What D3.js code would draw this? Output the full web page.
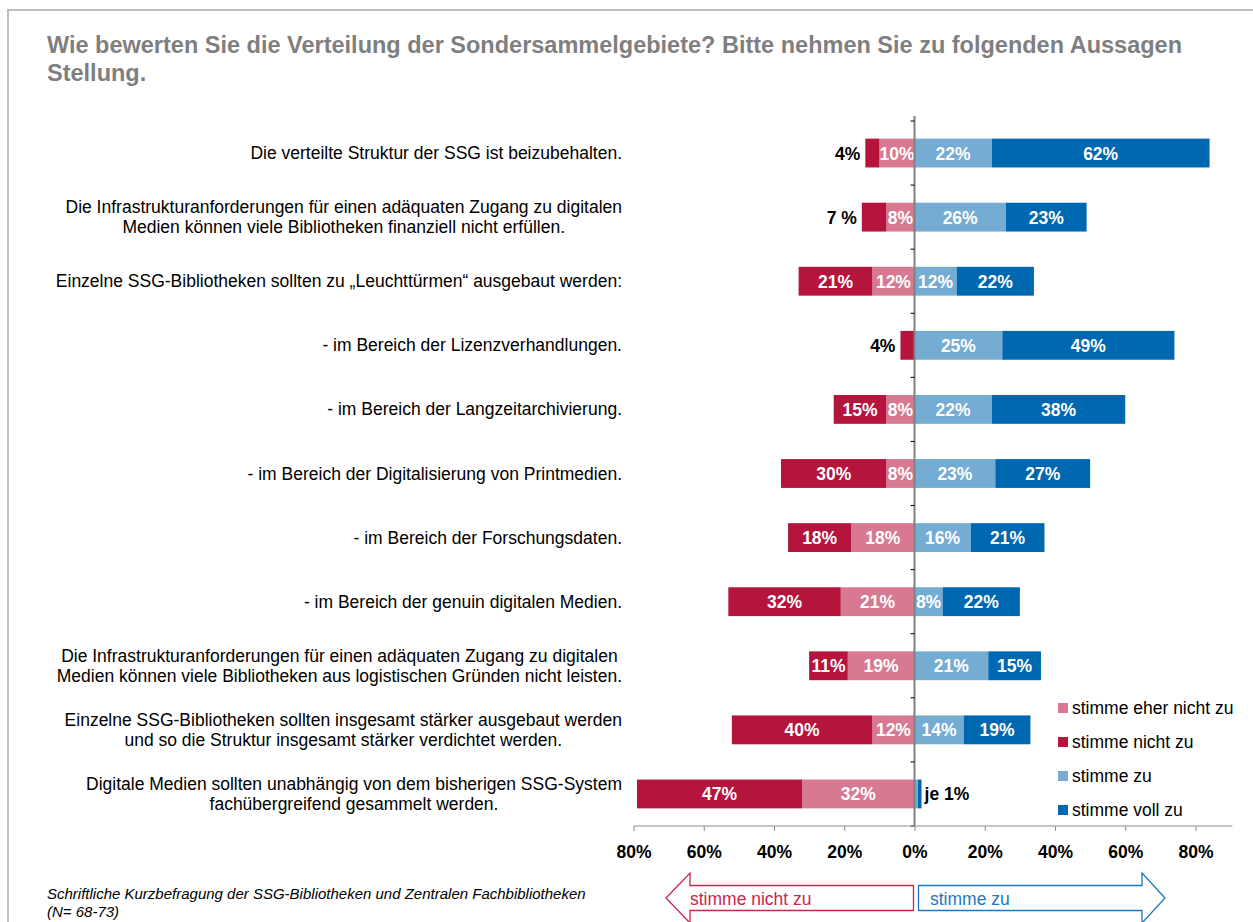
<!DOCTYPE html>
<html>
  <head>
    <meta charset="utf-8">
    <script type="text/javascript" src="https://d3js.org/d3.v7.min.js"></script>
    <style>
      body { margin: 0; background: #fff; }
      text { font-family: "Liberation Sans", Arial, sans-serif; }
    </style>
  </head>
  <body>
  </body>
  <script>

  var titleLines = ["Wie bewerten Sie die Verteilung der Sondersammelgebiete? Bitte nehmen Sie zu folgenden Aussagen",
                    "Stellung."];

  var categories = [
    ["Die verteilte Struktur der SSG ist beizubehalten."],
    ["Die Infrastrukturanforderungen für einen adäquaten Zugang zu digitalen", "Medien können viele Bibliotheken finanziell nicht erfüllen."],
    ["Einzelne SSG-Bibliotheken sollten zu „Leuchttürmen“ ausgebaut werden:"],
    ["- im Bereich der Lizenzverhandlungen."],
    ["- im Bereich der Langzeitarchivierung."],
    ["- im Bereich der Digitalisierung von Printmedien."],
    ["- im Bereich der Forschungsdaten."],
    ["- im Bereich der genuin digitalen Medien."],
    ["Die Infrastrukturanforderungen für einen adäquaten Zugang zu digitalen", "Medien können viele Bibliotheken aus logistischen Gründen nicht leisten."],
    ["Einzelne SSG-Bibliotheken sollten insgesamt stärker ausgebaut werden", "und so die Struktur insgesamt stärker verdichtet werden."],
    ["Digitale Medien sollten unabhängig von dem bisherigen SSG-System", "fachübergreifend gesammelt werden."]
  ];

  // values in percent
  var nichtZu     = [4, 7, 21, 4, 15, 30, 18, 32, 11, 40, 47];
  var eherNichtZu = [10, 8, 12, 0, 8, 8, 18, 21, 19, 12, 32];
  var stimmeZu    = [22, 26, 12, 25, 22, 23, 16, 8, 21, 14, 1];
  var vollZu      = [62, 23, 22, 49, 38, 27, 21, 22, 15, 19, 1];

  // small values labelled beside the bar
  var outsideLabels = [
    {row: 0, side: "left",  text: "4%"},
    {row: 1, side: "left",  text: "7 %"},
    {row: 3, side: "left",  text: "4%"},
    {row: 10, side: "right", text: "je 1%"}
  ];

  var tickValues = [-80, -60, -40, -20, 0, 20, 40, 60, 80];
  var legendNames = ["stimme eher nicht zu", "stimme nicht zu", "stimme zu", "stimme voll zu"];
  var legendKeys = ["eher", "nicht", "zu", "voll"];
  var arrowLabels = ["stimme nicht zu", "stimme zu"];
  var source = ["Schriftliche Kurzbefragung der SSG-Bibliotheken und Zentralen Fachbibliotheken", "(N= 68-73)"];

  var colors = {nicht: "#b5143c", eher: "#d77a91", zu: "#74acd3", voll: "#0068b0"};

  var svg = d3.select("body").append("svg")
              .attr("width", 1253)
              .attr("height", 922);

  // frame
  svg.append("path")
     .attr("d", "M8,922 V10 H1253")
     .attr("fill", "none")
     .attr("stroke", "#bfbfbf")
     .attr("stroke-width", 2);

  svg.selectAll(".title")
     .data(titleLines)
     .enter().append("text")
     .attr("x", 47)
     .attr("y", function(d, i) { return 53 + i * 28; })
     .attr("font-size", 23.5)
     .attr("font-weight", "bold")
     .attr("fill", "#7f7f7f")
     .text(function(d) { return d; });

  var x = d3.scaleLinear().domain([-80, 80]).range([633.5, 1195.5]);
  var y = d3.scaleBand().domain(d3.range(categories.length))
            .range([121, 826]).paddingInner(0.55).paddingOuter(0.275);

  // build stacked segments
  var segs = [];
  categories.forEach(function(c, i) {
    segs.push({row: i, key: "eher",  x0: -eherNichtZu[i], x1: 0, v: eherNichtZu[i]});
    segs.push({row: i, key: "nicht", x0: -eherNichtZu[i] - nichtZu[i], x1: -eherNichtZu[i], v: nichtZu[i]});
    segs.push({row: i, key: "zu",    x0: 0, x1: stimmeZu[i], v: stimmeZu[i]});
    segs.push({row: i, key: "voll",  x0: stimmeZu[i], x1: stimmeZu[i] + vollZu[i], v: vollZu[i]});
  });
  segs = segs.filter(function(s) { return s.v > 0; });

  svg.selectAll(".bar")
     .data(segs)
     .enter().append("rect")
     .attr("x", function(d) { return x(d.x0); })
     .attr("width", function(d) { return x(d.x1) - x(d.x0); })
     .attr("y", function(d) { return y(d.row); })
     .attr("height", y.bandwidth())
     .attr("fill", function(d) { return colors[d.key]; });

  svg.selectAll(".val")
     .data(segs.filter(function(s) { return s.v >= 8; }))
     .enter().append("text")
     .attr("x", function(d) { return (x(d.x0) + x(d.x1)) / 2; })
     .attr("y", function(d) { return y(d.row) + y.bandwidth() / 2 + 6.5; })
     .attr("text-anchor", "middle")
     .attr("font-size", 17.5)
     .attr("font-weight", "bold")
     .attr("fill", "#fff")
     .text(function(d) { return d.v + "%"; });

  svg.selectAll(".outside")
     .data(outsideLabels)
     .enter().append("text")
     .attr("x", function(d) {
        var i = d.row;
        return d.side == "left" ? x(-eherNichtZu[i] - nichtZu[i]) - 5 : x(stimmeZu[i] + vollZu[i]) + 3;
     })
     .attr("y", function(d) { return y(d.row) + y.bandwidth() / 2 + 6.5; })
     .attr("text-anchor", function(d) { return d.side == "left" ? "end" : "start"; })
     .attr("font-size", 17.5)
     .attr("font-weight", "bold")
     .attr("fill", "#000")
     .text(function(d) { return d.text; });

  // zero line with small ticks on the category boundaries
  svg.append("line")
     .attr("x1", x(0)).attr("x2", x(0))
     .attr("y1", 116).attr("y2", 826)
     .attr("stroke", "#808080")
     .attr("stroke-width", 2);

  svg.selectAll(".ytick")
     .data(d3.range(categories.length + 1))
     .enter().append("line")
     .attr("x1", x(0) - 4).attr("x2", x(0))
     .attr("y1", function(d) { return 121 + d * y.step(); })
     .attr("y2", function(d) { return 121 + d * y.step(); })
     .attr("stroke", "#000")
     .attr("stroke-width", 1);

  // x axis
  var axis = svg.append("g")
     .attr("transform", "translate(0,826)")
     .call(d3.axisBottom(x).tickValues(tickValues).tickSize(5).tickSizeOuter(0)
            .tickFormat(function(d) { return Math.abs(d) + "%"; }));
  axis.select(".domain").remove();
  axis.append("line")
     .attr("x1", x(-80)).attr("x2", x(90.5))
     .attr("stroke", "#8c8c8c");
  axis.selectAll(".tick line").attr("stroke", "#8c8c8c");
  axis.selectAll(".tick text")
     .attr("y", 20)
     .attr("dy", "0.71em")
     .attr("font-family", "Liberation Sans, Arial, sans-serif")
     .attr("font-size", 17.5)
     .attr("font-weight", "bold")
     .attr("fill", "#000");

  // category labels
  var labels = svg.selectAll(".cat")
     .data(categories)
     .enter().append("text")
     .attr("font-size", 17.5)
     .attr("fill", "#000");

  labels.each(function(lines, i) {
    var t = d3.select(this);
    var cy = y(i) + y.bandwidth() / 2;
    var y0 = cy - (lines.length - 1) * 10 + 6;
    var spans = t.selectAll("tspan").data(lines).enter().append("tspan")
       .attr("y", function(d, j) { return y0 + j * 20; })
       .text(function(d) { return d; });
    var widths = [];
    spans.each(function() { widths.push(this.getComputedTextLength()); });
    var maxW = d3.max(widths);
    var center = 622 - maxW / 2;
    spans.attr("x", center).attr("text-anchor", "middle");
  });

  // legend
  var legend = svg.selectAll(".leg")
     .data(legendNames)
     .enter().append("g")
     .attr("transform", function(d, i) { return "translate(1058," + (708 + i * 34) + ")"; });
  legend.append("rect")
     .attr("x", 0).attr("y", -5)
     .attr("width", 10).attr("height", 10)
     .attr("fill", function(d, i) { return colors[legendKeys[i]]; });
  legend.append("text")
     .attr("x", 14).attr("y", 6)
     .attr("font-size", 17.5)
     .attr("fill", "#000")
     .text(function(d) { return d; });

  // direction arrows
  var ay = 898;
  var leftArrow = [[x(0) - 1, ay - 12.5], [690, ay - 12.5], [690, ay - 25], [666, ay],
                   [690, ay + 25], [690, ay + 12.5], [x(0) - 1, ay + 12.5]];
  var rightArrow = [[x(0) + 4, ay - 12.5], [1142, ay - 12.5], [1142, ay - 25], [1165, ay],
                    [1142, ay + 25], [1142, ay + 12.5], [x(0) + 4, ay + 12.5]];
  svg.append("polygon")
     .attr("points", leftArrow.join(" "))
     .attr("fill", "#fff").attr("stroke", "#c8274f").attr("stroke-width", 1.3);
  svg.append("polygon")
     .attr("points", rightArrow.join(" "))
     .attr("fill", "#fff").attr("stroke", "#1f78bd").attr("stroke-width", 1.3);
  svg.append("text")
     .attr("x", 690).attr("y", ay + 6.5)
     .attr("font-size", 17.5).attr("fill", "#c8274f")
     .text(arrowLabels[0]);
  svg.append("text")
     .attr("x", 930).attr("y", ay + 6.5)
     .attr("font-size", 17.5).attr("fill", "#1f78bd")
     .text(arrowLabels[1]);

  // source note
  svg.selectAll(".src")
     .data(source)
     .enter().append("text")
     .attr("x", 47)
     .attr("y", function(d, i) { return 899 + i * 18; })
     .attr("font-size", 15)
     .attr("font-style", "italic")
     .attr("fill", "#000")
     .text(function(d) { return d; });

  </script>
</html>
